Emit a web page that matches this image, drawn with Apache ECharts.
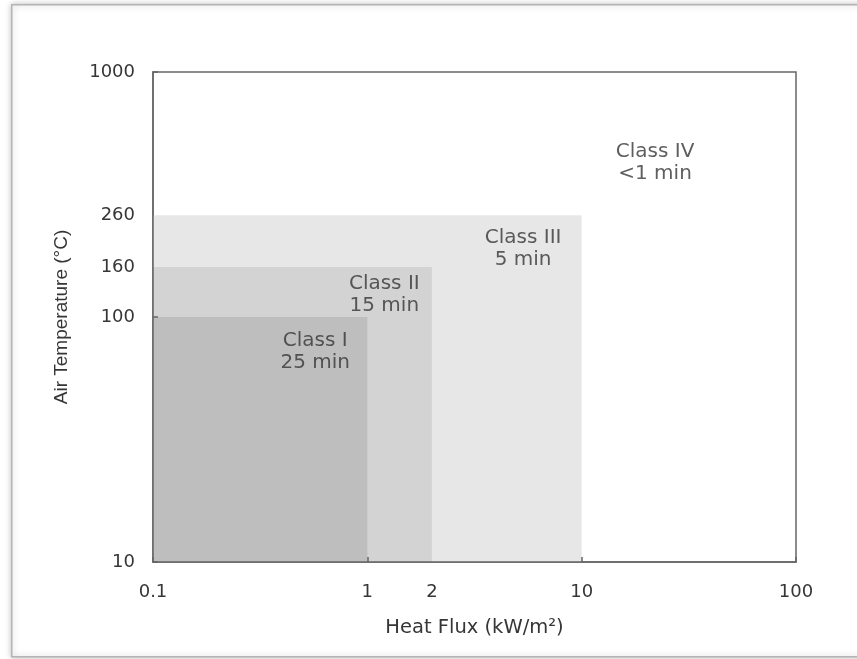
<!DOCTYPE html>
<html><head><meta charset="utf-8">
<script src="https://cdn.jsdelivr.net/npm/echarts@6/dist/echarts.min.js"></script>
<style>html,body{margin:0;padding:0;background:#fff}#c{width:857px;height:659px}</style>
</head><body><div id="c"></div>
<script>
// Class zones: [maxHeatFlux kW/m2, maxAirTemp °C]
var classNames = ['Class I', 'Class II', 'Class III', 'Class IV'];
var classTimes = ['25 min', '15 min', '5 min', '<1 min'];
var zoneFlux = [1, 2, 10];
var zoneTemp = [100, 160, 260];
var zoneColors = ['#bebebe', '#d3d3d3', '#e7e7e7'];
// label anchor positions (data space)
var labelFlux = [0.571, 1.2, 5.33, 22.0];
var labelTemp = [72.3, 123.5, 190.4, 425];
var xTickLabels = [0.1, 1, 2, 10, 100];
var xTicks = [0.1, 1, 10, 100];
var yTickLabels = [10, 100, 160, 260, 1000];
var yTicks = [10, 100, 1000];

var xMin = 0.1, xMax = 100, yMin = 10, yMax = 1000;

var areas = [];
for (var i = zoneFlux.length - 1; i >= 0; i--) {
  areas.push([
    {coord: [xMin, yMin], itemStyle: {color: zoneColors[i], opacity: 1}},
    {coord: [zoneFlux[i], zoneTemp[i]]}
  ]);
}
var labelData = classNames.map(function (n, i) {
  return {value: [labelFlux[i], labelTemp[i]], name: n + '\n' + classTimes[i]};
});

var wide = 'DejaVu Sans, sans-serif';
var arial = 'Liberation Sans, Arial, sans-serif';
var txt = '#363636';
var chart = echarts.init(document.getElementById('c'));
chart.setOption({
  animation: false,
  graphic: [{
    type: 'rect', left: 11, top: 4, z: -10,
    shape: {width: 900, height: 652},
    style: {fill: '#fff', stroke: '#b4b4b4', lineWidth: 1.5, shadowBlur: 6, shadowColor: 'rgba(0,0,0,0.25)'}
  }],
  grid: {left: 153, right: 61, top: 72, bottom: 97, show: true, borderColor: '#666', borderWidth: 1.5, backgroundColor: 'transparent'},
  xAxis: {
    type: 'log', logBase: 10, min: xMin, max: xMax, z: 10,
    name: 'Heat Flux (kW/m²)', nameLocation: 'middle', nameGap: 56,
    nameTextStyle: {fontFamily: wide, fontSize: 19.5, color: txt},
    axisLine: {show: true, lineStyle: {color: '#666', width: 1.5}},
    axisTick: {show: true, inside: true, length: 5, customValues: xTicks, lineStyle: {color: '#666', width: 1.5}},
    axisLabel: {customValues: xTickLabels, margin: 21, fontFamily: wide, fontSize: 18, color: txt,
      formatter: function (v) { return String(+(+v).toPrecision(6)); }},
    splitLine: {show: false}, minorTick: {show: false}
  },
  yAxis: {
    type: 'log', logBase: 10, min: yMin, max: yMax, z: 10,
    name: 'Air Temperature (°C)', nameLocation: 'middle', nameGap: 82, nameRotate: 90,
    nameTextStyle: {fontFamily: arial, fontSize: 19, color: txt},
    axisLine: {show: true, lineStyle: {color: '#666', width: 1.5}},
    axisTick: {show: true, inside: true, length: 5, customValues: yTicks, lineStyle: {color: '#666', width: 1.5}},
    axisLabel: {customValues: yTickLabels, margin: 18, fontFamily: wide, fontSize: 18, color: txt,
      formatter: function (v) { return String(Math.round(+v)); }},
    splitLine: {show: false}, minorTick: {show: false}
  },
  series: [{
    type: 'line', data: [], silent: true, z: 1,
    markArea: {silent: true, data: areas, label: {show: false}}
  }, {
    type: 'scatter', data: labelData, symbolSize: 0, silent: true, z: 5,
    label: {show: true, position: 'inside', formatter: function (p) { return p.name; },
      fontFamily: wide, fontSize: 20, lineHeight: 22, color: txt, align: 'center'}
  }]
});
</script></body></html>
